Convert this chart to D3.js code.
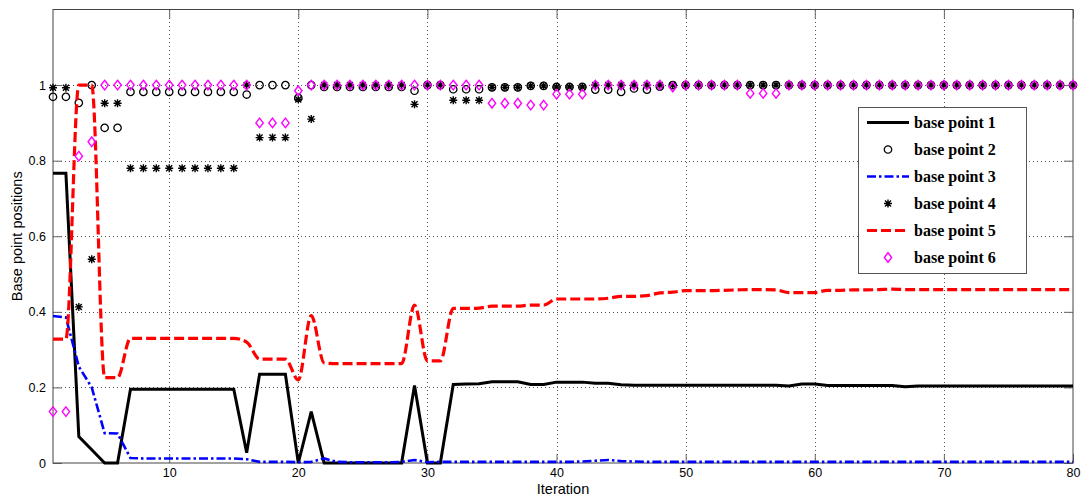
<!DOCTYPE html>
<html>
<head>
<meta charset="utf-8">
<script src="https://cdn.jsdelivr.net/npm/d3@7"></script>
<style>
  body { margin: 0; background: #fff; }
  svg { display: block; }
</style>
</head>
<body>
<svg></svg>
<script>
var width = 1083;
var height = 497;

// iteration index 1..80
var iterations = d3.range(1, 81);

var xTicks = [10, 20, 30, 40, 50, 60, 70, 80];
var yTicks = [0, 0.2, 0.4, 0.6, 0.8, 1];

var seriesNames = ["base point 1", "base point 2", "base point 3",
                   "base point 4", "base point 5", "base point 6"];

// base point 1 (black solid line)
var bp1 = [0.767, 0.767, 0.07, 0.035, 0, 0, 0.195, 0.195, 0.195, 0.195,
           0.195, 0.195, 0.195, 0.195, 0.195, 0.027, 0.235, 0.235, 0.235, 0,
           0.136, 0, 0, 0, 0, 0, 0, 0, 0.205, 0,
           0, 0.208, 0.209, 0.21, 0.215, 0.215, 0.215, 0.208, 0.208, 0.214,
           0.214, 0.214, 0.211, 0.211, 0.207, 0.206, 0.206, 0.206, 0.206, 0.206,
           0.206, 0.206, 0.206, 0.206, 0.206, 0.206, 0.206, 0.204, 0.209, 0.209,
           0.205, 0.205, 0.205, 0.205, 0.205, 0.205, 0.202, 0.204, 0.204, 0.204,
           0.204, 0.204, 0.204, 0.204, 0.204, 0.204, 0.204, 0.204, 0.204, 0.204];

// base point 2 (circles)
var bp2 = [0.969, 0.969, 0.953, 1, 0.887, 0.887, 0.982, 0.982, 0.982, 0.982,
           0.982, 0.982, 0.982, 0.982, 0.982, 0.975, 1, 1, 1, 0.966,
           1, 0.995, 0.995, 0.995, 0.995, 0.995, 0.995, 0.995, 0.985, 1,
           1, 0.989, 0.989, 0.989, 0.994, 0.994, 0.994, 0.998, 0.998, 0.995,
           0.995, 0.995, 0.988, 0.988, 0.982, 0.991, 0.988, 0.996, 1, 1,
           1, 1, 1, 1, 1, 1, 1, 1, 1, 1,
           1, 1, 1, 1, 1, 1, 1, 1, 1, 1,
           1, 1, 1, 1, 1, 1, 1, 1, 1, 1];

// base point 3 (blue dash-dot line)
var bp3 = [0.389, 0.385, 0.255, 0.2, 0.079, 0.078, 0.013, 0.012, 0.012, 0.012,
           0.012, 0.012, 0.012, 0.012, 0.012, 0.01, 0.003, 0.003, 0.003, 0.002,
           0.003, 0.012, 0.003, 0.002, 0.002, 0.002, 0.002, 0.003, 0.008, 0.002,
           0.003, 0.003, 0.003, 0.003, 0.003, 0.003, 0.003, 0.003, 0.003, 0.003,
           0.003, 0.004, 0.006, 0.008, 0.005, 0.004, 0.003, 0.003, 0.003, 0.003,
           0.003, 0.003, 0.003, 0.003, 0.003, 0.003, 0.003, 0.003, 0.003, 0.003,
           0.003, 0.003, 0.003, 0.003, 0.003, 0.003, 0.003, 0.003, 0.003, 0.003,
           0.003, 0.003, 0.003, 0.003, 0.003, 0.003, 0.003, 0.003, 0.003, 0.003];

// base point 4 (asterisks)
var bp4 = [0.993, 0.993, 0.413, 0.539, 0.952, 0.952, 0.78, 0.78, 0.78, 0.78,
           0.78, 0.78, 0.78, 0.78, 0.78, 1, 0.861, 0.861, 0.861, 0.962,
           0.91, 1, 1, 1, 1, 1, 1, 1, 0.949, 1,
           1, 0.96, 0.96, 0.96, 0.994, 0.994, 0.994, 0.998, 0.998, 0.995,
           0.995, 0.995, 1, 1, 1, 1, 1, 1, 1, 1,
           1, 1, 1, 1, 1, 1, 1, 1, 1, 1,
           1, 1, 1, 1, 1, 1, 1, 1, 1, 1,
           1, 1, 1, 1, 1, 1, 1, 1, 1, 1];

// base point 5 (red dashed line)
var bp5 = [0.328, 0.328, 1, 1, 0.226, 0.226, 0.33, 0.33, 0.33, 0.33,
           0.33, 0.33, 0.33, 0.33, 0.33, 0.32, 0.275, 0.275, 0.275, 0.22,
           0.39, 0.265, 0.263, 0.263, 0.263, 0.263, 0.263, 0.263, 0.418, 0.27,
           0.27, 0.409, 0.409, 0.41, 0.415, 0.415, 0.415, 0.418, 0.418, 0.434,
           0.434, 0.434, 0.434, 0.436, 0.441, 0.441, 0.443, 0.45, 0.452, 0.456,
           0.456, 0.456, 0.457, 0.458, 0.459, 0.459, 0.458, 0.451, 0.451, 0.451,
           0.457, 0.457, 0.458, 0.458, 0.459, 0.46, 0.459, 0.459, 0.459, 0.459,
           0.459, 0.459, 0.459, 0.459, 0.459, 0.459, 0.459, 0.459, 0.459, 0.459];

// base point 6 (magenta diamonds)
var bp6 = [0.136, 0.136, 0.812, 0.85, 1, 1, 1, 1, 1, 1,
           1, 1, 1, 1, 1, 1, 0.9, 0.9, 0.9, 0.985,
           1, 1, 1, 1, 1, 1, 1, 1, 1, 1,
           1, 1, 1, 1, 0.952, 0.952, 0.952, 0.947, 0.947, 0.976,
           0.976, 0.976, 1, 1, 1, 1, 1, 1, 0.995, 1,
           1, 1, 1, 1, 0.978, 0.978, 0.978, 1, 1, 1,
           1, 1, 1, 1, 1, 1, 1, 1, 1, 1,
           1, 1, 1, 1, 1, 1, 1, 1, 1, 1];

var padding = {top: 9.5, right: 10, bottom: 34, left: 53};

var svg = d3.select("svg")
            .attr("width", width)
            .attr("height", height);

var xScale = d3.scaleLinear()
               .domain([1, 80])
               .range([padding.left, width - padding.right]);

var yScale = d3.scaleLinear()
               .domain([0, 1.2])
               .range([height - padding.bottom, padding.top]);

var x0 = xScale.range()[0], x1 = xScale.range()[1];
var y0 = yScale.range()[0], y1 = yScale.range()[1];

// dotted grid
var grid = svg.append("g").attr("class", "grid")
  .attr("stroke", "#555")
  .attr("stroke-width", 1)
  .attr("stroke-dasharray", "1,3");

grid.selectAll(".gx")
  .data(xTicks.filter(function(d) { return d < 80; }))
  .enter().append("line")
  .attr("x1", function(d) { return Math.round(xScale(d)) + 0.5; })
  .attr("x2", function(d) { return Math.round(xScale(d)) + 0.5; })
  .attr("y1", y0).attr("y2", y1);

grid.selectAll(".gy")
  .data(yTicks.filter(function(d) { return d > 0; }))
  .enter().append("line")
  .attr("y1", function(d) { return Math.round(yScale(d)) + 0.5; })
  .attr("y2", function(d) { return Math.round(yScale(d)) + 0.5; })
  .attr("x1", x0).attr("x2", x1);

// axes with inward ticks (box style)
var tickLen = 9;
var fmt = function(d) { return d3.format("")(+d.toFixed(1)); };

var xAxis = svg.append("g")
  .attr("transform", "translate(0," + y0 + ")")
  .call(d3.axisBottom(xScale).tickValues(xTicks).tickSize(-tickLen).tickPadding(5));
var xAxisTop = svg.append("g")
  .attr("transform", "translate(0," + y1 + ")")
  .call(d3.axisTop(xScale).tickValues(xTicks).tickSize(-tickLen).tickFormat(""));
var yAxis = svg.append("g")
  .attr("transform", "translate(" + x0 + ",0)")
  .call(d3.axisLeft(yScale).tickValues(yTicks).tickSize(-tickLen).tickPadding(7).tickFormat(fmt));
var yAxisRight = svg.append("g")
  .attr("transform", "translate(" + x1 + ",0)")
  .call(d3.axisRight(yScale).tickValues(yTicks).tickSize(-tickLen).tickFormat(""));

[xAxis, xAxisTop, yAxis, yAxisRight].forEach(function(a) {
  a.select(".domain").remove();
  a.selectAll(".tick line").attr("stroke", "#666");
  a.selectAll("text")
   .attr("fill", "#000")
   .style("font-family", "'Liberation Sans', Arial, sans-serif")
   .style("font-size", "12.5px");
});

// box
svg.append("rect")
  .attr("x", x0).attr("y", y1)
  .attr("width", x1 - x0).attr("height", y0 - y1)
  .attr("fill", "none")
  .attr("stroke", "#444")
  .attr("stroke-width", 1);

// axis labels
svg.append("text")
  .attr("x", (x0 + x1) / 2)
  .attr("y", 493.5)
  .attr("text-anchor", "middle")
  .style("font-family", "'Liberation Sans', Arial, sans-serif")
  .style("font-size", "14.5px")
  .text("Iteration");

svg.append("text")
  .attr("transform", "translate(22," + ((y0 + y1) / 2) + ") rotate(-90)")
  .attr("text-anchor", "middle")
  .style("font-family", "'Liberation Sans', Arial, sans-serif")
  .style("font-size", "14.5px")
  .text("Base point positions");

// helpers
function pairs(vals) {
  return iterations.map(function(it, i) { return {x: it, y: vals[i]}; });
}

var asteriskPath = (function() {
  var r = 4, d = r * 0.75;
  return "M" + (-r) + ",0L" + r + ",0M0," + (-r) + "L0," + r +
         "M" + (-d) + "," + (-d) + "L" + d + "," + d +
         "M" + (-d) + "," + d + "L" + d + "," + (-d);
})();
var diamondPath = "M0,-4.8L3.7,0L0,4.8L-3.7,0Z";

var styles = [
  {type: "line", color: "#000", width: 3, dash: null, curve: d3.curveLinear},
  {type: "circle", color: "#000"},
  {type: "line", color: "#0000ff", width: 2.6, dash: "9,3,2.5,3", curve: d3.curveLinear},
  {type: "asterisk", color: "#000"},
  {type: "line", color: "#ff0000", width: 3.2, dash: "10,4", curve: d3.curveMonotoneX},
  {type: "diamond", color: "#ff00ff"}
];
var allData = [bp1, bp2, bp3, bp4, bp5, bp6];

function drawMarker(g, type, color) {
  if (type === "circle") {
    g.append("circle").attr("r", 3.7)
     .attr("fill", "none").attr("stroke", color).attr("stroke-width", 1.3);
  } else if (type === "asterisk") {
    g.append("path").attr("d", asteriskPath)
     .attr("fill", "none").attr("stroke", color).attr("stroke-width", 1.4);
  } else {
    g.append("path").attr("d", diamondPath)
     .attr("fill", "none").attr("stroke", color).attr("stroke-width", 1.4);
  }
}

allData.forEach(function(vals, k) {
  var st = styles[k];
  var data = pairs(vals);
  if (st.type === "line") {
    var line = d3.line()
      .x(function(d) { return xScale(d.x); })
      .y(function(d) { return yScale(d.y); })
      .curve(st.curve);
    svg.append("path")
      .datum(data)
      .attr("d", line)
      .attr("fill", "none")
      .attr("stroke", st.color)
      .attr("stroke-width", st.width)
      .attr("stroke-dasharray", st.dash);
  } else {
    svg.append("g").selectAll("g")
      .data(data)
      .enter().append("g")
      .attr("transform", function(d) { return "translate(" + xScale(d.x) + "," + yScale(d.y) + ")"; })
      .each(function() { drawMarker(d3.select(this), st.type, st.color); });
  }
});

// legend
var legend = svg.append("g").attr("transform", "translate(858,107)");
legend.append("rect")
  .attr("x", 0.5).attr("y", 0.5)
  .attr("width", 168).attr("height", 166)
  .attr("fill", "#fff")
  .attr("stroke", "#555");

seriesNames.forEach(function(name, k) {
  var st = styles[k];
  var yy = 15.5 + k * 27;
  if (st.type === "line") {
    legend.append("line")
      .attr("x1", 9).attr("x2", 51)
      .attr("y1", yy).attr("y2", yy)
      .attr("stroke", st.color)
      .attr("stroke-width", st.width)
      .attr("stroke-dasharray", st.dash);
  } else {
    var g = legend.append("g").attr("transform", "translate(30," + yy + ")");
    drawMarker(g, st.type, st.color);
  }
  legend.append("text")
    .attr("x", 56)
    .attr("y", yy)
    .attr("dy", "0.35em")
    .style("font-family", "'Liberation Serif', 'Times New Roman', serif")
    .style("font-weight", "bold")
    .style("font-size", "16px")
    .text(name);
});
</script>
</body>
</html>
